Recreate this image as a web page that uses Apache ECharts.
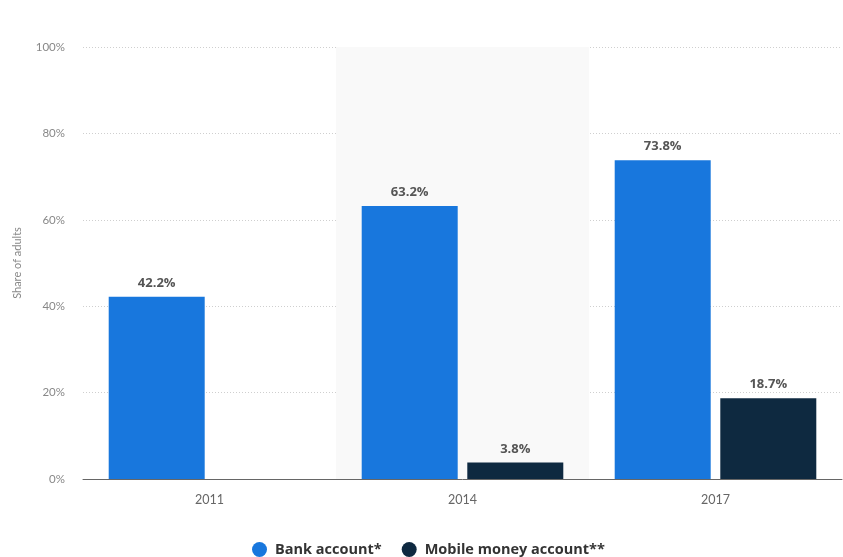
<!DOCTYPE html>
<html>
<head>
<meta charset="utf-8">
<script src="https://cdn.jsdelivr.net/npm/echarts@6/dist/echarts.min.js"></script>
<style>
  html, body { margin: 0; padding: 0; background: #fff; }
  #chart { width: 843px; height: 557px; }
</style>
</head>
<body>
<div id="chart"></div>
<script>
var years = ['2011', '2014', '2017'];
var bankAccount = [42.2, 63.2, 73.8];
var mobileMoney = [null, 3.8, 18.7];
var yTicks = [0, 20, 40, 60, 80, 100];

var myChart = echarts.init(document.getElementById('chart'));

// value labels above the bars
var labelStyle = {
    show: true,
    position: 'top',
    distance: 7,
    color: '#555',
    fontWeight: 'bold',
    fontSize: 13,
    fontFamily: 'Open Sans',
    formatter: function (p) { return p.value == null ? '' : p.value.toFixed(1) + '%'; }
};

myChart.setOption({
    animation: false,
    textStyle: { fontFamily: 'Lato' },
    grid: { left: 83, right: 1, top: 47, bottom: 78 },
    legend: {
        top: 537,
        left: 247,
        icon: 'circle',
        itemWidth: 15,
        itemHeight: 15,
        itemGap: 20,
        textStyle: { color: '#333', fontSize: 14.5, fontWeight: 'bold', fontFamily: 'Open Sans', padding: [0, 0, 0, 3] },
        data: ['Bank account*', 'Mobile money account**']
    },
    xAxis: {
        type: 'category',
        data: years,
        axisLine: { lineStyle: { color: '#666', width: 1 } },
        axisTick: { show: false },
        axisLabel: { color: '#666', fontSize: 12.5, margin: 14 },
        splitArea: { show: true, areaStyle: { color: ['rgba(255,255,255,0)', '#f9f9f9'] } }
    },
    yAxis: {
        type: 'value',
        min: yTicks[0],
        max: yTicks[yTicks.length - 1],
        interval: 20,
        name: 'Share of adults',
        nameLocation: 'middle',
        nameGap: 60,
        nameTextStyle: { color: '#888', fontSize: 11 },
        axisLine: { show: false },
        axisTick: { show: false },
        axisLabel: { color: '#888', fontSize: 11.5, margin: 18, formatter: '{value}%' },
        splitLine: { lineStyle: { color: '#cfcfcf', type: [1, 2], width: 1 } }
    },
    series: [
        {
            name: 'Bank account*',
            type: 'bar',
            data: bankAccount,
            barWidth: 96,
            barGap: '10%',
            itemStyle: { color: '#1877dd' },
            label: labelStyle
        },
        {
            name: 'Mobile money account**',
            type: 'bar',
            data: mobileMoney,
            barWidth: 96,
            itemStyle: { color: '#0e2940' },
            label: labelStyle
        }
    ]
});
</script>
</body>
</html>
